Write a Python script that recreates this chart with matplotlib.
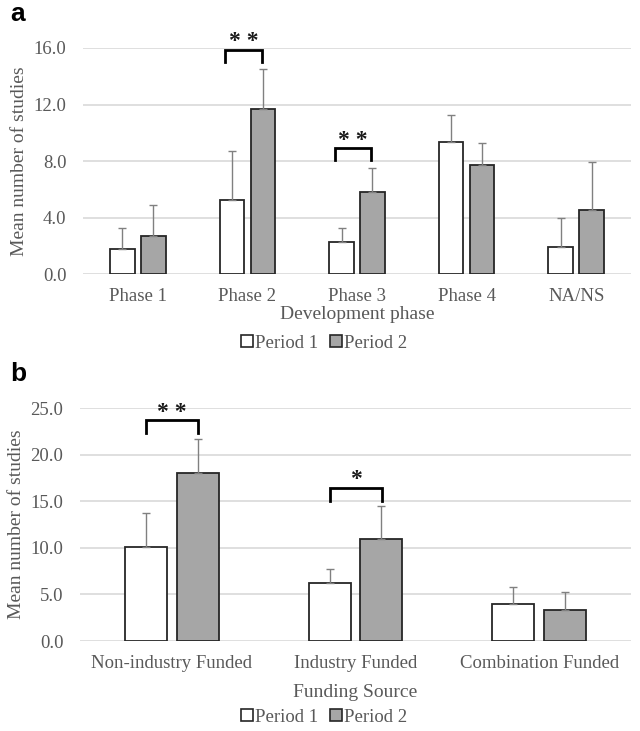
import numpy as np
import matplotlib
matplotlib.use('Agg')
from matplotlib import pyplot as plt
from matplotlib.patches import Patch

# panel a data
phases = ['Phase 1', 'Phase 2', 'Phase 3', 'Phase 4', 'NA/NS']
phaseP1 = [1.75, 5.25, 2.25, 9.34, 1.9]
phaseP1Err = [1.54, 3.43, 1.04, 1.89, 2.07]
phaseP2 = [2.69, 11.68, 5.84, 7.73, 4.54]
phaseP2Err = [2.2, 2.81, 1.65, 1.54, 3.36]
phaseSig = {1: '* *', 2: '* *'}

# panel b data
funding = ['Non-industry Funded', 'Industry Funded', 'Combination Funded']
fundP1 = [10.07, 6.18, 4.0]
fundP1Err = [3.64, 1.57, 1.82]
fundP2 = [18.07, 10.96, 3.36]
fundP2Err = [3.64, 3.5, 1.93]
fundSig = {0: '* *', 1: '*'}

textGray = '#595959'
serif = ['Liberation Serif', 'DejaVu Serif']
plt.rcParams['font.family'] = serif

fig = plt.figure(figsize=(6.4, 7.31), dpi=100)
axA = fig.add_axes([83 / 640, 1 - 274 / 731, 548 / 640, 226 / 731])
axB = fig.add_axes([80 / 640, 1 - 641 / 731, 551 / 640, 233 / 731])


def drawPanel(ax, cats, v1, e1, v2, e2, ymax, step, width, off, xlabel, xlpad):
    x = np.arange(len(cats))
    ek = dict(ecolor='#808080', elinewidth=1.0, capsize=3, capthick=1.0)
    ax.bar(x - off, v1, width, color='white', edgecolor='#262626', linewidth=1.3,
           yerr=[np.zeros(len(v1)), e1], error_kw=ek, zorder=3, label='Period 1')
    ax.bar(x + off, v2, width, color='#a6a6a6', edgecolor='#262626', linewidth=1.3,
           yerr=[np.zeros(len(v2)), e2], error_kw=ek, zorder=3, label='Period 2')
    ax.set_xlim(-0.5, len(cats) - 0.5)
    ax.set_ylim(0, ymax)
    ticks = np.arange(0, ymax + 0.01, step)
    ax.set_yticks(ticks)
    ax.set_yticklabels(['%.1f' % t for t in ticks])
    ax.set_xticks(x)
    ax.set_xticklabels(cats)
    ax.tick_params(length=0, labelsize=13.5, labelcolor=textGray)
    ax.tick_params(axis='y', pad=12)
    ax.tick_params(axis='x', pad=10)
    ax.grid(axis='y', color='#d9d9d9', linewidth=1.2, zorder=0)
    for s in ax.spines.values():
        s.set_visible(False)
    ax.set_ylabel('Mean number of studies', fontsize=14, color=textGray, labelpad=4)
    ax.set_xlabel(xlabel, fontsize=14, color=textGray, labelpad=xlpad)


def bracket(ax, xl, xr, y, h, txt, dy):
    ax.plot([xl, xl, xr, xr], [y - h, y, y, y - h], color='black', lw=2,
            clip_on=False, zorder=4, solid_joinstyle='miter')
    ax.text((xl + xr) / 2, y + dy, txt, ha='center', va='center',
            fontsize=17, fontweight='bold', color='#1a1a1a', clip_on=False)


drawPanel(axA, phases, phaseP1, phaseP1Err, phaseP2, phaseP2Err, 16, 4, 0.224, 0.141,
          'Development phase', 1)
for i, s in phaseSig.items():
    top = max(phaseP1[i] + phaseP1Err[i], phaseP2[i] + phaseP2Err[i])
    bracket(axA, i - 0.2, i + 0.13, top + 1.4, 0.85, s, 0.55)

drawPanel(axB, funding, fundP1, fundP1Err, fundP2, fundP2Err, 25, 5, 0.228, 0.141,
          'Funding Source', 9)
for i, s in fundSig.items():
    top = max(fundP1[i] + fundP1Err[i], fundP2[i] + fundP2Err[i])
    bracket(axB, i - 0.14, i + 0.145, top + 2.0, 1.4, s, 0.85)

handles = [Patch(facecolor='white', edgecolor='#262626', linewidth=1.2, label='Period 1'),
           Patch(facecolor='#a6a6a6', edgecolor='#262626', linewidth=1.2, label='Period 2')]
for yy in [343, 717]:
    fig.legend(handles=handles, loc='center', bbox_to_anchor=(324 / 640, 1 - yy / 731),
               ncol=2, frameon=False, fontsize=13.5, labelcolor=textGray,
               handlelength=0.65, handleheight=0.65, handletextpad=0.1, columnspacing=0.6,
               borderpad=0)

fig.text(10 / 640, 1 - 14 / 731, 'a', fontsize=19, fontweight='bold',
         family=['Liberation Sans', 'DejaVu Sans'], ha='left', va='center')
fig.text(10 / 640, 1 - 374 / 731, 'b', fontsize=19, fontweight='bold',
         family=['Liberation Sans', 'DejaVu Sans'], ha='left', va='center')

fig.savefig('out.png', dpi=100)
